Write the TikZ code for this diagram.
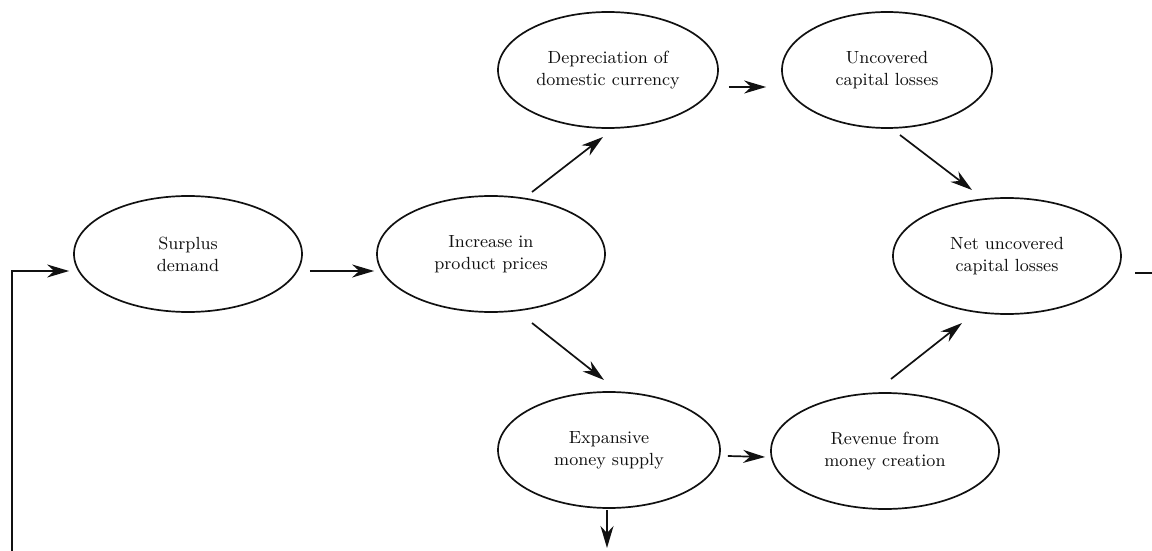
\documentclass[tikz,border=0pt]{standalone}
\usepackage{tikz}
\usetikzlibrary{arrows.meta,shapes.geometric}
\definecolor{loopink}{HTML}{111111}
\tikzset{
  oval/.style={ellipse, draw=loopink, line width=0.85pt, align=center, inner sep=0pt,
    minimum width=114pt, minimum height=58pt, font=\fontsize{8.8}{11}\selectfont, text=loopink},
  arr/.style={-{Stealth[length=11pt, width=6.5pt, inset=3.5pt]}, line width=0.85pt, color=loopink},
  ln/.style={line width=0.85pt, color=loopink},
}
\begin{document}
\begin{tikzpicture}[x=0.5pt,y=-0.5pt]
  \useasboundingbox (0,0) rectangle (1152,551);
  % ovals, placed at pixel positions of the figure
  \node[oval] (surplus) at (188,254) {Surplus\\demand};
  \node[oval] (increase) at (491,254) {Increase in\\product prices};
  \node[oval, minimum width=110pt] (deprec) at (608,70) {Depreciation of\\domestic currency};
  \node[oval, minimum width=105pt] (uncov) at (887,70) {Uncovered\\capital losses};
  \node[oval] (net) at (1007,256) {Net uncovered\\capital losses};
  \node[oval, minimum width=111pt] (expans) at (609,450) {Expansive\\money supply};
  \node[oval] (revenue) at (885,451) {Revenue from\\money creation};
  \coordinate (out) at (607,548);
  \coordinate (cut) at (1152,273);
  \coordinate (loop) at (12,551);
  % arrows
  \draw[arr] ([shift={(7,17)}]surplus.east) -- ([shift={(-2,17)}]increase.west);
  \draw[arr] ([shift={(41,-62)}]increase.center) -- ([shift={(-5,67)}]deprec.center);
  \draw[arr] ([shift={(41,69)}]increase.center) -- ([shift={(-5,-70)}]expans.center);
  \draw[arr] ([shift={(10,17)}]deprec.east) -- ([shift={(-15,17)}]uncov.west);
  \draw[arr] ([shift={(13,65)}]uncov.center) -- ([shift={(-35,-66)}]net.center);
  \draw[arr] ([shift={(7,6)}]expans.east) -- ([shift={(-5,6)}]revenue.west);
  \draw[arr] ([shift={(6,-72)}]revenue.center) -- ([shift={(-45,67)}]net.center);
  \draw[arr] ([shift={(-2,60)}]expans.center) -- (out);
  \draw[ln] ([shift={(128,17)}]net.center) -- (cut);
  \draw[arr] (loop) |- ([shift={(-4,17)}]surplus.west);
\end{tikzpicture}
\end{document}
